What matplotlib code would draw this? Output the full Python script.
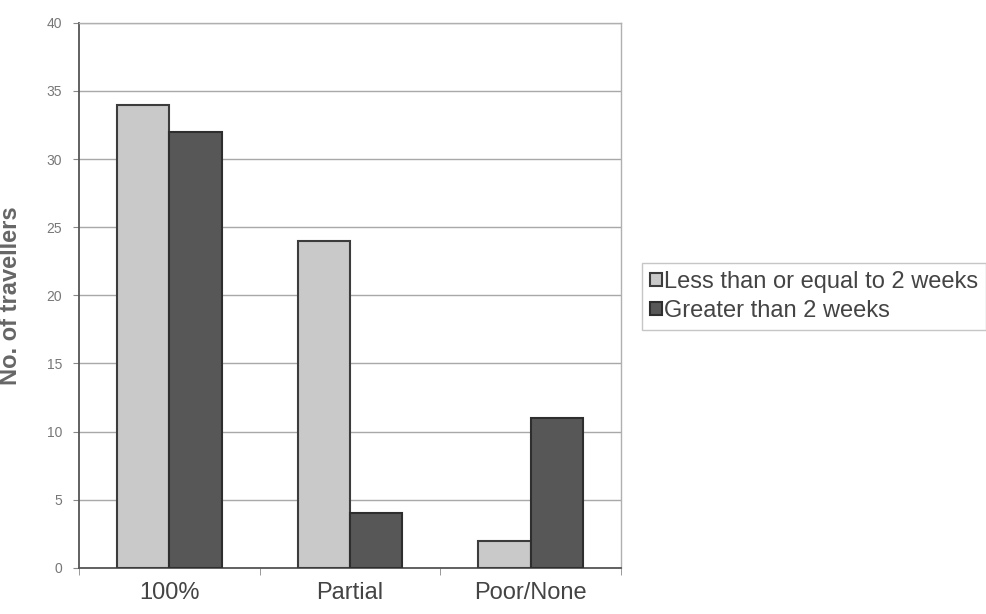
import matplotlib
matplotlib.use("Agg")
import matplotlib.pyplot as plt
import numpy as np

categories = ["100%", "Partial", "Poor/None"]
short_stay = [34, 24, 2]
long_stay = [32, 4, 11]
series_names = ["Less than or equal to 2 weeks", "Greater than 2 weeks"]

plt.rcParams["font.family"] = ["Liberation Sans", "DejaVu Sans"]

fig = plt.figure(figsize=(9.87, 6.14), dpi=100)
ax = fig.add_axes([0.080, 0.075, 0.549, 0.888])

x = np.arange(len(categories))
w = 0.29
ax.bar(x - w / 2, short_stay, w, color="#c9c9c9", edgecolor="#3c3c3c", linewidth=1.5,
       label=series_names[0], zorder=3)
ax.bar(x + w / 2, long_stay, w, color="#575757", edgecolor="#2e2e2e", linewidth=1.5,
       label=series_names[1], zorder=3)

ax.set_xlim(-0.5, len(categories) - 0.5)
ax.set_ylim(0, 40)
ax.set_yticks(range(0, 41, 5))
ax.yaxis.grid(True, color="#a8a8a8", linewidth=1)
ax.set_axisbelow(True)

ax.set_xticks(x)
ax.set_xticklabels(categories, fontsize=17, color="#444444")
ax.set_xticks(np.arange(-0.5, len(categories), 1), minor=True)
ax.tick_params(axis="x", which="major", length=0, pad=10)
ax.tick_params(axis="x", which="minor", length=5, color="#888888")
ax.tick_params(axis="y", labelsize=10, labelcolor="#777777", length=4, color="#888888", pad=8)

for s in ["left", "bottom"]:
    ax.spines[s].set_color("#555555")
    ax.spines[s].set_linewidth(1.3)
for s in ["top", "right"]:
    ax.spines[s].set_color("#b0b0b0")
    ax.spines[s].set_linewidth(1)

ax.set_ylabel("No. of travellers", fontsize=17, fontweight="bold", color="#666666")
ax.yaxis.set_label_coords(-0.105, 0.5)

leg = fig.legend(loc="upper left", bbox_to_anchor=(0.650, 0.572), fontsize=17,
                 frameon=True, fancybox=False, handlelength=0.5, handleheight=0.5,
                 handletextpad=0.1, borderpad=0.35, labelspacing=0.3, borderaxespad=0)
leg.get_frame().set_edgecolor("#b8b8b8")
leg.get_frame().set_linewidth(1)
for t in leg.get_texts():
    t.set_color("#444444")

fig.savefig("out.png", dpi=100)
